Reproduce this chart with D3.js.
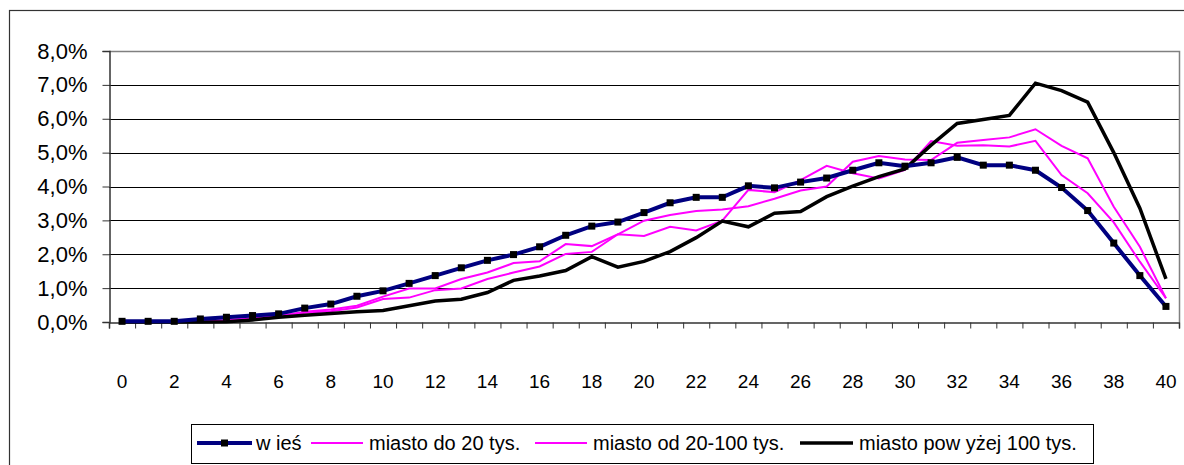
<!DOCTYPE html>
<html>
<head>
<meta charset="utf-8">
<script src="https://cdn.jsdelivr.net/npm/d3@7"></script>
<style>
  body { margin: 0; background: #fff; }
  svg { display: block; font-family: "Liberation Sans", Arial, sans-serif; }
</style>
</head>
<body>
<div id="chart"></div>
<script>
// age categories 0..40
const categories = d3.range(0, 41);
const xLabels = d3.range(0, 41, 2);
const yTicks = [0, 0.01, 0.02, 0.03, 0.04, 0.05, 0.06, 0.07, 0.08];

// shares in percent
const wies = [0.02, 0.02, 0.02, 0.09, 0.14, 0.19, 0.24, 0.41, 0.53, 0.76,
  0.92, 1.14, 1.37, 1.60, 1.82, 1.99, 2.22, 2.56, 2.83, 2.95,
  3.23, 3.52, 3.68, 3.68, 4.02, 3.96, 4.13, 4.25, 4.48, 4.70,
  4.60, 4.70, 4.86, 4.63, 4.63, 4.48, 3.97, 3.29, 2.33, 1.37, 0.46];
const miastoDo20 = [0, 0, 0, 0.02, 0.04, 0.10, 0.15, 0.27, 0.32, 0.43,
  0.68, 0.72, 0.94, 0.99, 1.27, 1.46, 1.64, 2.01, 2.07, 2.59,
  2.99, 3.16, 3.28, 3.32, 3.42, 3.64, 3.88, 4.00, 4.73, 4.90,
  4.80, 4.78, 5.29, 5.37, 5.45, 5.69, 5.20, 4.83, 3.40, 2.22, 0.70];
const miasto20do100 = [0, 0, 0, 0.03, 0.06, 0.12, 0.18, 0.30, 0.37, 0.48,
  0.75, 0.99, 0.99, 1.27, 1.46, 1.74, 1.79, 2.30, 2.24, 2.59,
  2.54, 2.81, 2.70, 2.99, 3.90, 3.83, 4.19, 4.61, 4.39, 4.24,
  4.49, 5.34, 5.20, 5.22, 5.18, 5.35, 4.34, 3.80, 2.94, 1.78, 0.70];
const miastoPow100 = [0, 0, 0, 0, 0.01, 0.06, 0.14, 0.20, 0.25, 0.30,
  0.34, 0.48, 0.62, 0.67, 0.87, 1.23, 1.36, 1.52, 1.93, 1.62,
  1.79, 2.08, 2.49, 2.98, 2.81, 3.21, 3.26, 3.70, 4.01, 4.29,
  4.52, 5.22, 5.86, 5.98, 6.10, 7.05, 6.83, 6.49, 5.00, 3.36, 1.27];

const series = [
  { name: "w ieś", values: wies, color: "#000080", width: 4, marker: true },
  { name: "miasto do 20 tys.", values: miastoDo20, color: "#ff00ff", width: 2 },
  { name: "miasto od 20-100 tys.", values: miasto20do100, color: "#ff00ff", width: 2 },
  { name: "miasto pow yżej 100 tys.", values: miastoPow100, color: "#000000", width: 3.5 }
];

const width = 1184, height = 465;
const svg = d3.select("#chart").append("svg")
  .attr("width", width)
  .attr("height", height);

// outer chart frame (right and bottom edges fall outside the picture)
svg.append("rect")
  .attr("x", 9.5).attr("y", 10.5)
  .attr("width", 1300).attr("height", 600)
  .attr("fill", "none").attr("stroke", "#333").attr("stroke-width", 1.2);

const x = d3.scaleBand().domain(categories).range([109, 1179]);
const xb = d3.scaleLinear().domain([0, categories.length]).range([109, 1179]);
const y = d3.scaleLinear().domain([0, 0.08]).range([322, 51]);
const cx = i => x(i) + x.bandwidth() / 2;

// gridlines
svg.append("g")
  .selectAll("line")
  .data(yTicks.slice(1, -1))
  .enter().append("line")
  .attr("x1", 109).attr("x2", 1179)
  .attr("y1", d => Math.round(y(d)) + 0.5).attr("y2", d => Math.round(y(d)) + 0.5)
  .attr("stroke", "#000").attr("stroke-width", 1);

// plot area border top/right (grey)
svg.append("path")
  .attr("d", `M109,${Math.round(y(0.08)) + 0.5}H1179.5V322`)
  .attr("fill", "none").attr("stroke", "#808080").attr("stroke-width", 1.5);

// y axis
const fmt = d => (d * 100).toFixed(1).replace(".", ",") + "%";
const yAxis = svg.append("g")
  .attr("transform", "translate(109.5,0)")
  .call(d3.axisLeft(y).tickValues(yTicks).tickSize(7).tickFormat(fmt));
yAxis.select(".domain").attr("stroke", "#333").attr("stroke-width", 1.5);
yAxis.selectAll(".tick line").attr("stroke", "#333");
yAxis.selectAll(".tick text")
  .attr("x", -22)
  .attr("font-size", 22)
  .attr("font-family", "Liberation Sans, Arial, sans-serif")
  .attr("fill", "#000");

// x axis: tick marks between categories
const xAxis = svg.append("g")
  .attr("transform", "translate(0,322.5)")
  .call(d3.axisBottom(xb).tickValues(d3.range(categories.length + 1)).tickSize(6).tickFormat(""));
xAxis.select(".domain").attr("stroke", "#333").attr("stroke-width", 1.5);
xAxis.selectAll(".tick line").attr("stroke", "#333");

svg.append("g")
  .selectAll("text")
  .data(xLabels)
  .enter().append("text")
  .attr("x", d => cx(d))
  .attr("y", 388)
  .attr("text-anchor", "middle")
  .attr("font-size", 19)
  .text(d => d);

// lines
const line = d3.line()
  .x((d, i) => cx(i))
  .y(d => y(d / 100));

// draw order: pink, black, then navy on top
const order = [series[1], series[2], series[3], series[0]];
order.forEach(s => {
  svg.append("path")
    .datum(s.values)
    .attr("d", line)
    .attr("fill", "none")
    .attr("stroke", s.color)
    .attr("stroke-width", s.width)
    .attr("stroke-linejoin", "miter");
  if (s.marker) {
    svg.append("g")
      .selectAll("rect")
      .data(s.values)
      .enter().append("rect")
      .attr("x", (d, i) => cx(i) - 3.5)
      .attr("y", d => y(d / 100) - 3.5)
      .attr("width", 7).attr("height", 7)
      .attr("fill", "#000");
  }
});

// legend
const legend = svg.append("g");
legend.append("rect")
  .attr("x", 191.5).attr("y", 424.5)
  .attr("width", 902).attr("height", 39)
  .attr("fill", "#fff").attr("stroke", "#000").attr("stroke-width", 1);

const legendItems = [
  { s: series[0], x1: 197, x2: 252, tx: 256 },
  { s: series[1], x1: 311, x2: 363, tx: 369 },
  { s: series[2], x1: 535, x2: 587, tx: 593 },
  { s: series[3], x1: 800, x2: 853, tx: 859 }
];
const ly = 443;
legendItems.forEach(it => {
  legend.append("line")
    .attr("x1", it.x1).attr("x2", it.x2)
    .attr("y1", ly).attr("y2", ly)
    .attr("stroke", it.s.color).attr("stroke-width", it.s.width);
  if (it.s.marker) {
    legend.append("rect")
      .attr("x", (it.x1 + it.x2) / 2 - 3.5).attr("y", ly - 3.5)
      .attr("width", 7).attr("height", 7).attr("fill", "#000");
  }
  legend.append("text")
    .attr("x", it.tx).attr("y", ly + 7)
    .attr("font-size", 20)
    .text(it.s.name);
});
</script>
</body>
</html>
